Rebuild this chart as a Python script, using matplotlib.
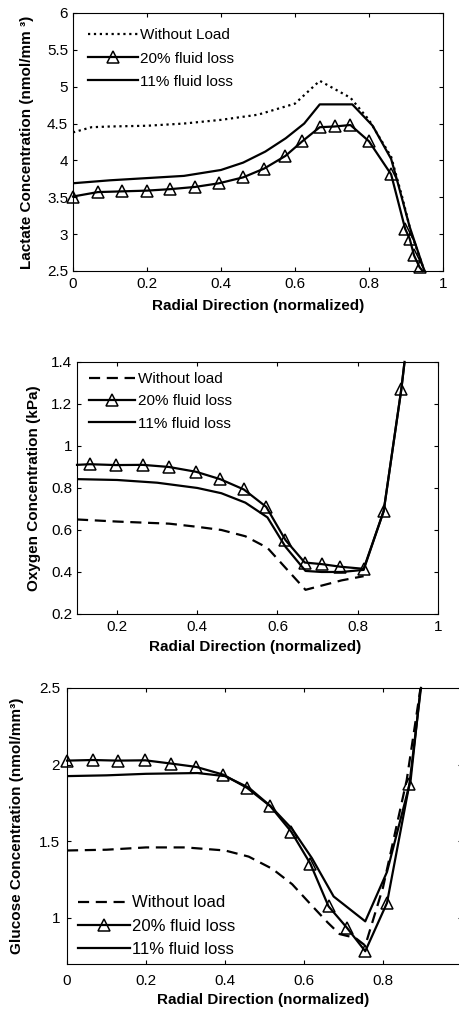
import matplotlib
matplotlib.use('Agg')
import matplotlib.pyplot as plt

plt.rcParams['font.family'] = ['Liberation Sans', 'DejaVu Sans']

# ─── DATOS ────────────────────────────────────────────────────────────────────
# Lactato
lac_x_noload = [0.0, 0.05, 0.1, 0.2, 0.3, 0.4, 0.5, 0.6, 0.667, 0.75, 0.8, 0.86, 0.89, 0.915, 0.95]
lac_y_noload = [4.38, 4.45, 4.46, 4.47, 4.50, 4.55, 4.62, 4.77, 5.08, 4.85, 4.55, 4.05, 3.50, 3.00, 2.50]

lac_x_20 = [0.0, 0.067, 0.133, 0.2, 0.263, 0.33, 0.395, 0.46, 0.517, 0.574, 0.62,
            0.667, 0.707, 0.75, 0.80, 0.86, 0.898, 0.91, 0.922, 0.937, 0.945]
lac_y_20 = [3.51, 3.57, 3.58, 3.59, 3.61, 3.64, 3.69, 3.77, 3.89, 4.06, 4.26,
            4.45, 4.46, 4.48, 4.26, 3.81, 3.07, 2.94, 2.71, 2.55, 2.50]

lac_x_11 = [0.0, 0.1, 0.2, 0.3, 0.4, 0.46, 0.52, 0.575, 0.625, 0.667, 0.755, 0.81, 0.86, 0.875, 0.91, 0.95]
lac_y_11 = [3.69, 3.73, 3.76, 3.79, 3.87, 3.97, 4.12, 4.30, 4.50, 4.76, 4.76, 4.47, 4.02, 3.75, 3.10, 2.50]

# Oxígeno
oxy_x_noload = [0.1, 0.2, 0.33, 0.4, 0.46, 0.52, 0.575, 0.62, 0.67, 0.72, 0.76, 0.815]
oxy_y_noload = [0.65, 0.64, 0.63, 0.615, 0.60, 0.57, 0.515, 0.42, 0.315, 0.34, 0.36, 0.38]

oxy_x_20 = [0.1, 0.132, 0.197, 0.264, 0.329, 0.397, 0.457, 0.516, 0.572, 0.62,
            0.668, 0.712, 0.757, 0.815, 0.865, 0.909, 0.917]
oxy_y_20 = [0.91, 0.913, 0.909, 0.91, 0.90, 0.877, 0.842, 0.793, 0.71, 0.552,
            0.445, 0.437, 0.425, 0.415, 0.69, 1.27, 1.40]

oxy_x_11 = [0.1, 0.2, 0.3, 0.4, 0.46, 0.52, 0.575, 0.62, 0.67, 0.71, 0.76, 0.815, 0.865, 0.909, 0.917]
oxy_y_11 = [0.842, 0.838, 0.825, 0.80, 0.775, 0.73, 0.66, 0.52, 0.405, 0.40, 0.40, 0.41, 0.69, 1.27, 1.40]

# Glucosa
glu_x_noload = [0.0, 0.1, 0.2, 0.3, 0.4, 0.46, 0.52, 0.57, 0.62, 0.66, 0.69, 0.73, 0.755, 0.80, 0.86, 0.895]
glu_y_noload = [1.44, 1.445, 1.46, 1.46, 1.44, 1.40, 1.32, 1.22, 1.08, 0.97, 0.895, 0.87, 0.82, 1.20, 1.90, 2.50]

glu_x_20 = [0.0, 0.065, 0.128, 0.198, 0.263, 0.327, 0.395, 0.456, 0.515, 0.568,
            0.616, 0.662, 0.709, 0.755, 0.81, 0.867, 0.896]
glu_y_20 = [2.026, 2.03, 2.026, 2.028, 2.007, 1.985, 1.935, 1.848, 1.728, 1.561,
            1.354, 1.076, 0.935, 0.783, 1.098, 1.876, 2.50]

glu_x_11 = [0.0, 0.1, 0.2, 0.33, 0.4, 0.46, 0.515, 0.57, 0.62, 0.675, 0.755, 0.81, 0.87, 0.895]
glu_y_11 = [1.925, 1.93, 1.94, 1.945, 1.925, 1.85, 1.73, 1.58, 1.39, 1.14, 0.978, 1.30, 1.90, 2.50]

LEG_SIN_1 = 'Without Load'
LEG_SIN = 'Without load'
LEG_20 = '20% fluid loss'
LEG_11 = '11% fluid loss'

# ─── FIGURA ───────────────────────────────────────────────────────────────────
fig = plt.figure(figsize=(4.59, 10.13), dpi=100)

ax1 = fig.add_axes([0.159, 0.7325, 0.806, 0.2547])
ax2 = fig.add_axes([0.1678, 0.3939, 0.786, 0.2488])
ax3 = fig.add_axes([0.146, 0.0484, 0.8606, 0.2725])

LW = 1.6
DASH = (0, (5, 3))
tri = dict(marker='^', markersize=8, markerfacecolor='none',
           markeredgecolor='black', markeredgewidth=1.1)


def estilo(ax, xpad, ypad, xlab_y, ylab_x, xlab_x=0.5):
    ax.tick_params(direction='in', top=True, right=True, length=3,
                   labelsize=11, width=0.8)
    ax.tick_params(axis='x', pad=xpad)
    ax.tick_params(axis='y', pad=ypad)
    for s in ax.spines.values():
        s.set_linewidth(0.8)
    ax.set_xlabel('Radial Direction (normalized)', fontsize=11, fontweight='bold')
    ax.xaxis.set_label_coords(xlab_x, xlab_y)
    ax.yaxis.set_label_coords(ylab_x, 0.5)


# ── Panel 1: Lactato ────────────────────────────────
ax1.plot(lac_x_noload, lac_y_noload, color='black', lw=LW, linestyle=':', label=LEG_SIN_1)
ax1.plot(lac_x_20, lac_y_20, color='black', lw=LW, label=LEG_20, clip_on=False,
         markevery=list(range(len(lac_x_20) - 1)), **tri)
ax1.plot(lac_x_11, lac_y_11, color='black', lw=LW, label=LEG_11)
ax1.set_xlim(0, 1)
ax1.set_ylim(2.5, 6)
ax1.set_xticks([0, 0.2, 0.4, 0.6, 0.8, 1])
ax1.set_xticklabels(['0', '0.2', '0.4', '0.6', '0.8', '1'])
ax1.set_yticks([2.5, 3, 3.5, 4, 4.5, 5, 5.5, 6])
ax1.set_yticklabels(['2.5', '3', '3.5', '4', '4.5', '5', '5.5', '6'])
ax1.set_ylabel('Lactate Concentration (nmol/mm ³)', fontsize=11, fontweight='bold')
estilo(ax1, 4, 3.5, -0.108, -0.105)
ax1.legend(loc='upper left', bbox_to_anchor=(0.04, 0.94), frameon=False,
           fontsize=11, handlelength=3.3, handletextpad=0.1, borderpad=0,
           borderaxespad=0, labelspacing=0.6)

# ── Panel 2: Oxígeno ────────────────────────────────
ax2.plot(oxy_x_noload, oxy_y_noload, color='black', lw=LW, linestyle=DASH, label=LEG_SIN)
ax2.plot(oxy_x_20, oxy_y_20, color='black', lw=LW, label=LEG_20, clip_on=False,
         markevery=list(range(1, len(oxy_x_20) - 1)), **tri)
ax2.plot(oxy_x_11, oxy_y_11, color='black', lw=LW, label=LEG_11)
ax2.set_xlim(0.1, 1)
ax2.set_ylim(0.2, 1.4)
ax2.set_xticks([0.2, 0.4, 0.6, 0.8, 1])
ax2.set_xticklabels(['0.2', '0.4', '0.6', '0.8', '1'])
ax2.set_yticks([0.2, 0.4, 0.6, 0.8, 1, 1.2, 1.4])
ax2.set_yticklabels(['0.2', '0.4', '0.6', '0.8', '1', '1.2', '1.4'])
ax2.set_ylabel('Oxygen Concentration (kPa)', fontsize=11, fontweight='bold')
estilo(ax2, 4, 3.5, -0.103, -0.1, 0.493)
ax2.legend(loc='upper left', bbox_to_anchor=(0.033, 0.96), frameon=False,
           fontsize=11, handlelength=3.0, handletextpad=0.2, borderpad=0,
           borderaxespad=0, labelspacing=0.55)

# ── Panel 3: Glucosa ────────────────────────────────
ax3.plot(glu_x_noload, glu_y_noload, color='black', lw=LW, linestyle=DASH, label=LEG_SIN)
ax3.plot(glu_x_20, glu_y_20, color='black', lw=LW, label=LEG_20, clip_on=False,
         markevery=list(range(len(glu_x_20) - 1)), **tri)
ax3.plot(glu_x_11, glu_y_11, color='black', lw=LW, label=LEG_11)
ax3.set_xlim(0, 1)
ax3.set_ylim(0.7, 2.5)
ax3.set_xticks([0, 0.2, 0.4, 0.6, 0.8, 1])
ax3.set_xticklabels(['0', '0.2', '0.4', '0.6', '0.8', ''])
ax3.set_yticks([1, 1.5, 2, 2.5])
ax3.set_yticklabels(['1', '1.5', '2', '2.5'])
ax3.set_ylabel('Glucose Concentration (nmol/mm³)', fontsize=11, fontweight='bold')
estilo(ax3, 7, 5, -0.105, -0.109, 0.496)
ax3.legend(loc='lower left', bbox_to_anchor=(0.028, 0.025), frameon=False,
           fontsize=12, handlelength=3.1, handletextpad=0.15, borderpad=0,
           borderaxespad=0, labelspacing=0.5)

fig.savefig('out.png', dpi=100)
